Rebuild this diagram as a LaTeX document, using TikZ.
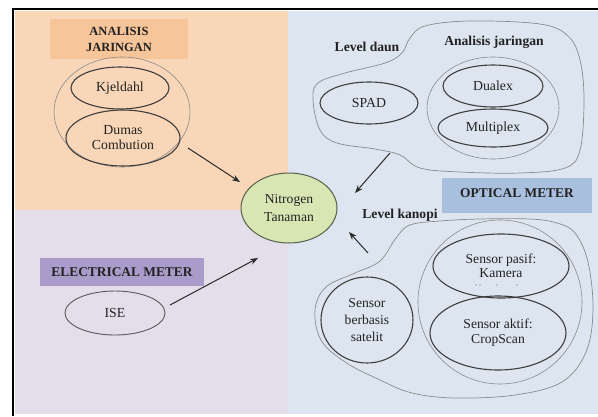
\documentclass[tikz,border=0pt]{standalone}
\usepackage{fontspec}
\setmainfont{Liberation Serif}
\usetikzlibrary{shapes.geometric,arrows.meta}
\definecolor{orbg}{HTML}{F9D6B7}
\definecolor{orbox}{HTML}{F6C59A}
\definecolor{blbg}{HTML}{DDE6F0}
\definecolor{blbox}{HTML}{A8C0DD}
\definecolor{pubg}{HTML}{E3DEEA}
\definecolor{pubox}{HTML}{A99CCA}
\definecolor{nitfill}{HTML}{D7E6B3}
\definecolor{nitline}{HTML}{55604A}
\definecolor{txt}{HTML}{222222}
\definecolor{ovalc}{HTML}{3E3E3E}
\definecolor{grpc}{HTML}{8A8A8A}
\definecolor{arrc}{HTML}{2A2A2A}
\begin{document}
\begin{tikzpicture}[x=1pt,y=-1pt,
  oval/.style={ellipse, draw=ovalc, line width=1.1pt, inner sep=0pt, align=center,
    font=\fontsize{13.8}{15}\selectfont, text=txt},
  grp/.style={ellipse, draw=grpc, line width=0.6pt, inner sep=0pt},
  lbl/.style={font=\bfseries\fontsize{13.6}{15}\selectfont, text=txt, inner sep=0pt},
  hbox/.style={rectangle, inner sep=0pt, align=center, font=\bfseries\fontsize{13.4}{16}\selectfont, text=txt},
  blob/.style={draw=grpc, line width=0.7pt},
  arr/.style={-{Stealth[length=8pt,width=6pt]}, line width=1pt, draw=arrc}]
\useasboundingbox (0,0) rectangle (598,416);
\fill[white] (0,0) rectangle (598,416);
% background quadrants
\fill[orbg] (15,11) rectangle (288,210);
\fill[pubg] (15,210) rectangle (288,414);
\fill[blbg] (288,11) rectangle (598,414);
% frame
\draw[black, line width=2pt] (13,416) -- (13,9) -- (598,9);

% ---- top left
\node[hbox, fill=orbox, minimum width=138pt, minimum height=40pt, font=\bfseries\fontsize{12.5}{16}\selectfont] (anbox) at (119,39) {ANALISIS\\JARINGAN};
\node[grp, minimum width=136pt, minimum height=110pt] (angrp) at (122,112) {};
\node[oval, minimum width=98pt, minimum height=42pt] (kj) at (120,88) {Kjeldahl};
\node[oval, minimum width=114pt, minimum height=56pt] (du) at (123,138) {Dumas\\Combution};

% ---- centre
\node[ellipse, draw=nitline, fill=nitfill, line width=1pt, inner sep=0pt, align=center,
  minimum width=96pt, minimum height=70pt, font=\fontsize{13.6}{18}\selectfont, text=txt] (nit) at (289,208) {Nitrogen\\Tanaman};

% ---- top right
\draw[blob] plot[smooth cycle, tension=0.6] coordinates {
  (313,100) (318,83) (345,73) (385,63) (402,53) (410,38) (425,26) (470,21)
  (540,24) (568,36) (580,60) (584,100) (580,150) (565,168) (520,173)
  (460,172) (420,168) (400,155) (375,149) (337,143) (320,130)};
\node[lbl] (lvd) at (367,47) {Level daun};
\node[lbl] (anj) at (494,42) {Analisis jaringan};
\node[oval, minimum width=98pt, minimum height=42pt] (spad) at (369,103) {SPAD};
\node[grp, minimum width=132pt, minimum height=102pt] (r1grp) at (493,108) {};
\node[oval, minimum width=100pt, minimum height=42pt] (dualex) at (493,86) {Dualex};
\node[oval, minimum width=110pt, minimum height=38pt] (multi) at (493,128) {Multiplex};
\node[hbox, fill=blbox, minimum width=150pt, minimum height=35pt] (optbox) at (517,195.5) {};
\node[hbox] (opt) at (517,193) {OPTICAL METER};

% ---- bottom right
\draw[blob] plot[smooth cycle, tension=0.6] coordinates {
  (410,225) (440,221) (480,219) (530,219) (557,223) (575,233) (588,262)
  (593,310) (586,352) (562,382) (515,395) (455,398) (412,393) (380,380)
  (345,362) (321,340) (315,310) (326,287) (355,273) (380,261) (396,238)};
\node[lbl] (lvk) at (400,215) {Level kanopi};
\node[grp, minimum width=164pt, minimum height=164pt] (r2grp) at (500,302) {};
\node[oval, minimum width=92pt, minimum height=86pt, font=\fontsize{13.6}{17}\selectfont] (sat) at (367,320) {Sensor\\berbasis\\satelit};
\node[oval, minimum width=136pt, minimum height=64pt, font=\fontsize{13.6}{14}\selectfont] (pasif) at (501,266) {Sensor pasif:\\Kamera};
\fill[ovalc!80] (476,285) circle (0.7pt) (480,285) circle (0.7pt) (497,285) circle (0.7pt) (517,285) circle (0.7pt);
\node[oval, minimum width=136pt, minimum height=74pt, font=\fontsize{13.6}{15}\selectfont] (aktif) at (498,333) {Sensor aktif:\\CropScan};

% ---- bottom left
\node[hbox, fill=pubox, minimum width=164pt, minimum height=28pt] (elbox) at (122,272) {ELECTRICAL METER};
\node[oval, draw=ovalc!85, line width=0.9pt, minimum width=100pt, minimum height=44pt] (ise) at (115,313) {ISE};

% ---- arrows
\coordinate (a1s) at (188,148);
\coordinate (a1e) at (240,182);
\coordinate (a2s) at (390,153);
\coordinate (a2e) at (355,193);
\coordinate (a3s) at (368,253);
\coordinate (a3e) at (349,232);
\coordinate (a4s) at (170,305);
\coordinate (a4e) at (258,258);
\draw[arr] (a1s) -- (a1e);
\draw[arr] (a2s) -- (a2e);
\draw[arr] (a3s) -- (a3e);
\draw[arr] (a4s) -- (a4e);
\end{tikzpicture}
\end{document}
